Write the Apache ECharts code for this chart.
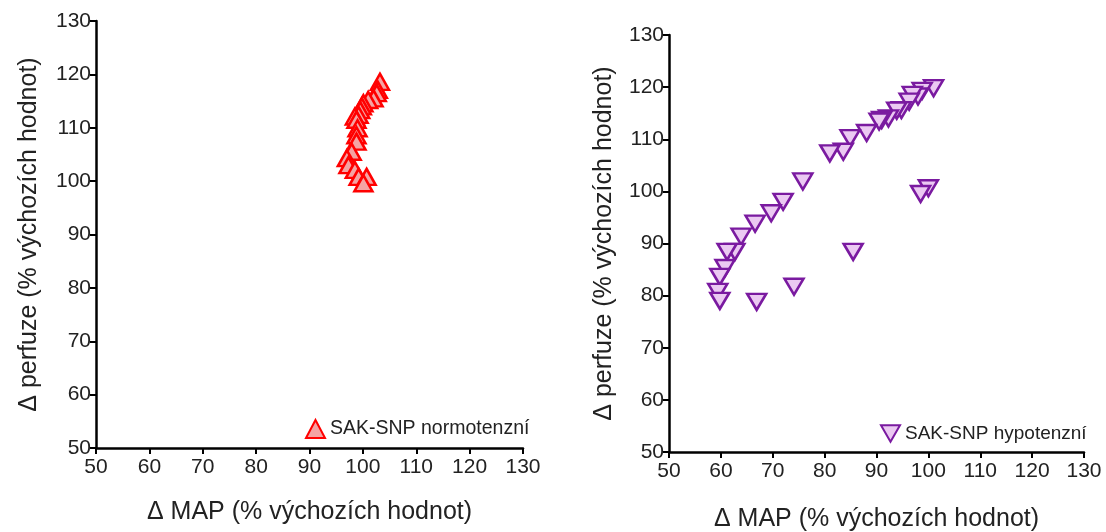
<!DOCTYPE html>
<html><head><meta charset="utf-8">
<script src="https://cdn.jsdelivr.net/npm/echarts@6/dist/echarts.min.js"></script>
<style>html,body{margin:0;padding:0;background:#fff}#c{width:1106px;height:532px}</style>
</head><body><div id="c"></div>
<script>
const axisTicks = [50,60,70,80,90,100,110,120,130];
const seriesNames = ['SAK-SNP normotenzní','SAK-SNP hypotenzní'];
const xTitle = 'Δ MAP (% výchozích hodnot)';
const yTitle = 'Δ perfuze (% výchozích hodnot)';
const normoMAP = [103.2,102.8,102.6,102.0,101.0,100.1,99.8,99.5,99.2,98.5,98.8,99.0,98.8,98.8,97.9,97.0,97.3,98.5,99.2,100.7,100.1];
const normoPerf = [118.6,117.1,116.5,115.5,115.2,114.6,114.0,113.3,112.4,112.1,111.5,109.9,108.6,107.4,105.5,104.3,103.0,102.1,100.8,100.8,99.6];
const hypoMAP = [101.0,98.8,98.0,96.9,96.3,94.8,93.9,92.3,91.0,90.5,88.1,84.9,83.6,81.0,75.8,72.0,69.7,66.6,63.9,62.7,61.2,60.8,59.8,59.4,59.8,100.0,98.5,85.5,74.1,66.9];
const hypoPerf = [119.8,119.3,118.2,118.5,117.2,115.6,115.5,114.0,113.7,113.4,111.2,110.2,107.6,107.3,101.9,98.0,95.8,93.8,91.3,88.4,88.4,85.3,83.6,80.7,79.0,100.6,99.5,88.4,81.7,78.8];

const pair = (a,b) => a.map((v,i)=>[v,b[i]]);
const FONT = 'Liberation Sans, Arial, sans-serif';
function axis(i, type){
  const isX = type==='x';
  return {
    type:'value', gridIndex:i, min:axisTicks[0], max:axisTicks[axisTicks.length-1], interval:10,
    name: isX? xTitle : yTitle, nameLocation:'middle', nameGap: isX ? (i===0?52:55) : (i===0?54:52),
    nameRotate: isX?0:90,
    nameTextStyle:{color:'#222', fontSize:25, fontFamily:FONT},
    axisLine:{show:true, onZero:false, lineStyle:{color:'#000', width:2.5}},
    axisTick:{show:true, length:6, inside:false, lineStyle:{color:'#000', width:2}},
    axisLabel:{color:'#222', fontSize:21, fontFamily:FONT, margin: isX?9:5},
    splitLine:{show:false}
  };
}
const downTri = 'path://M0,0 L20,0 L10,17.3 Z';
const option = {
  animation:false,
  grid:[
    {left:96, top:21, width:427, height:427, outerBoundsMode:'none', containLabel:false},
    {left:669, top:35, width:415, height:417, outerBoundsMode:'none', containLabel:false}
  ],
  xAxis:[axis(0,'x'), axis(1,'x')],
  yAxis:[axis(0,'y'), axis(1,'y')],
  legend:[
    {data:[seriesNames[0]], left:300, top:414, itemWidth:19, itemHeight:18, itemGap:10,
     textStyle:{fontSize:19.5, color:'#222', fontFamily:FONT}},
    {data:[seriesNames[1]], left:875, top:419, itemWidth:19, itemHeight:17, itemGap:10,
     textStyle:{fontSize:19, color:'#222', fontFamily:FONT}}
  ],
  series:[
    {name:seriesNames[0], type:'scatter', xAxisIndex:0, yAxisIndex:0, symbol:'triangle', symbolSize:[18,16],
     itemStyle:{color:'#f5a3a3', borderColor:'#ff0000', borderWidth:2.5, opacity:1},
     data:pair(normoMAP, normoPerf)},
    {name:seriesNames[1], type:'scatter', xAxisIndex:1, yAxisIndex:1, symbol:downTri, symbolSize:[19,16],
     itemStyle:{color:'#ebc9f2', borderColor:'#7a1aa0', borderWidth:2.5, opacity:1},
     data:pair(hypoMAP, hypoPerf)}
  ]
};
echarts.init(document.getElementById('c'), null, {renderer:'canvas'}).setOption(option);
</script></body></html>
